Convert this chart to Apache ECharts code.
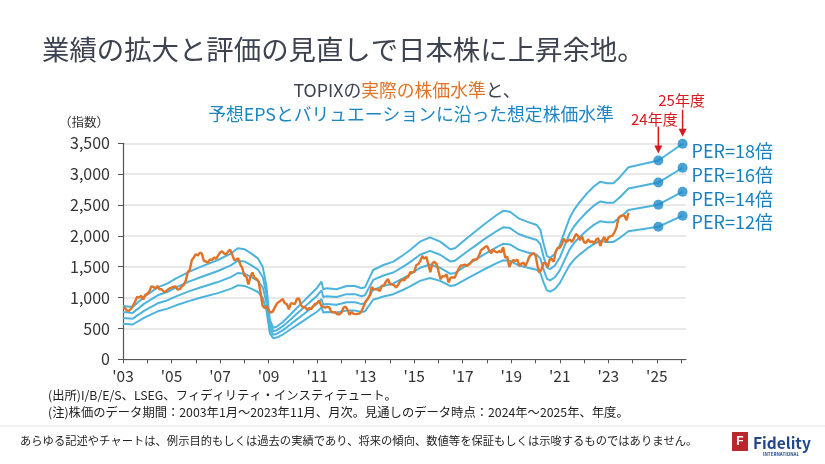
<!DOCTYPE html>
<html><head><meta charset="utf-8">
<script src="https://cdn.jsdelivr.net/npm/echarts@6/dist/echarts.min.js"></script>
<style>html,body{margin:0;padding:0;background:#fff}#c{width:825px;height:464px}</style>
</head><body><div id="c"></div>
<script>
// TOPIX monthly (2003-01 .. 2023-11)
const topixStart = 2003;
const topix = [
 834,831,788,787,819,880,936,1013,1000,1030,970,1043,
 1060,1100,1179,1174,1145,1189,1135,1136,1102,1093,1124,1150,
 1160,1177,1182,1129,1137,1177,1204,1271,1412,1444,1606,1650,
 1704,1681,1728,1712,1595,1585,1565,1620,1610,1651,1627,1681,
 1730,1752,1713,1701,1749,1774,1697,1609,1616,1637,1537,1475,
 1356,1341,1212,1336,1408,1320,1303,1264,1087,867,830,860,
 794,756,773,837,898,929,950,978,909,894,811,908,
 901,894,979,987,880,841,850,804,829,810,860,898,
 910,951,869,851,838,849,841,770,761,764,728,729,
 755,835,854,805,719,770,736,731,737,742,781,860,
 940,976,1035,1170,1135,1133,1131,1106,1194,1194,1258,1302,
 1220,1211,1203,1163,1202,1263,1289,1277,1326,1333,1410,1408,
 1416,1523,1543,1592,1673,1630,1659,1537,1411,1558,1580,1547,
 1432,1297,1347,1340,1379,1245,1322,1329,1322,1393,1469,1519,
 1521,1535,1512,1531,1568,1611,1618,1617,1675,1765,1792,1818,
 1836,1768,1716,1777,1747,1730,1753,1735,1817,1646,1667,1494,
 1567,1607,1591,1617,1512,1551,1565,1511,1587,1667,1699,1721,
 1684,1511,1403,1464,1563,1558,1496,1618,1625,1579,1754,1805,
 1808,1864,1954,1898,1922,1943,1901,1960,2030,2001,1928,1992,
 1895,1886,1946,1899,1912,1871,1940,1963,1835,1929,1985,1892,
 1975,1994,2003,2057,2131,2288,2322,2332,2324,2254,2374
];
// Forecast EPS (index points) at decimal-year dates; last two = FY2024, FY2025 outlook
const epsX = [2003.0,2003.4,2003.88,2004.43,2004.84,2005.19,2005.74,2006.22,2006.91,2007.46,2007.73,2008.0,2008.28,2008.56,2008.76,2008.91,2009.05,2009.19,2009.33,2009.6,2009.88,2010.15,2010.43,2010.7,2010.98,2011.18,2011.25,2011.39,2011.8,2012.22,2012.56,2012.83,2012.97,2013.31,2013.73,2014.14,2014.55,2014.83,2015.24,2015.65,2016.07,2016.48,2016.68,2017.17,2017.85,2018.4,2018.68,2018.95,2019.3,2019.64,2020.05,2020.2,2020.33,2020.47,2020.6,2020.8,2021.0,2021.2,2021.4,2021.6,2021.8,2022.12,2022.4,2022.67,2022.94,2023.21,2023.49,2023.83,2025.06,2026.06];
const eps = [47.9,47.0,56.4,64.8,68.4,72.9,78.9,83.4,89.4,95.4,99.9,99.1,95.4,90.9,83.0,66.0,35.4,28.4,29.3,33.8,39.9,45.9,51.9,57.9,63.9,69.9,63.1,63.9,63.1,66.0,66.0,63.9,64.8,80.4,84.9,87.9,93.9,98.4,105.9,109.8,105.9,99.1,99.9,108.9,120.9,129.9,133.8,132.9,126.9,123.9,120.9,116.5,104.0,93.0,91.3,95.0,103.0,115.0,127.0,135.0,141.0,149.4,155.6,159.9,158.5,158.5,164.4,172.9,179,194];
const perMultiples = [18,16,14,12];
const perLabels = ['PER=18倍','PER=16倍','PER=14倍','PER=12倍'];
const fyLabels = ['24年度','25年度'];
const yTicks = {min:0,max:3500,interval:500};

const FONT = '"Noto Sans CJK JP","Noto Sans",sans-serif';
const BLUE = '#4cb3dd', DOT = '#1b8bc8', ORANGE = '#e07327', RED = '#d7191f';

const chart = echarts.init(document.getElementById('c'), null, {renderer:'canvas'});
const series = [];
perMultiples.forEach(m => {
  series.push({type:'line', data: epsX.map((x,i)=>[x, eps[i]*m]), showSymbol:false, symbol:'none',
    lineStyle:{color:BLUE,width:2}, z:2, silent:true});
});
series.push({type:'scatter', symbolSize:10, itemStyle:{color:DOT},
  data: perMultiples.flatMap(m => [epsX.length-2, epsX.length-1].map(i=>[epsX[i], eps[i]*m])), z:4});
series.push({type:'line', data: topix.map((v,i)=>[topixStart + i/12, v]), showSymbol:false, symbol:'none',
  lineStyle:{color:ORANGE,width:2.4}, z:3});

chart.setOption({
  animation:false,
  grid:{left:123, right:139, top:143.3, bottom:104.7, containLabel:false},
  xAxis:{type:'value', min:2003, max:2026.2, interval:1,
    axisLine:{lineStyle:{color:'#555',width:1.2}},
    axisTick:{show:true,length:4,lineStyle:{color:'#555'}},
    splitLine:{show:false},
    axisLabel:{fontFamily:FONT,fontSize:15.5,color:'#333',margin:9,showMaxLabel:false,
      formatter:v=>{const r=Math.round(v); if(Math.abs(v-r)>1e-6) return ''; return (r-2003)%2===0 ? "'"+String(r).slice(2) : '';}}},
  yAxis:{type:'value', min:yTicks.min, max:yTicks.max, interval:yTicks.interval,
    axisLine:{show:true,lineStyle:{color:'#555',width:1.2}},
    axisTick:{show:true,length:5,lineStyle:{color:'#555'}},
    splitLine:{lineStyle:{color:'#e2e2e2',width:1.5}},
    axisLabel:{fontFamily:FONT,fontSize:16,color:'#333',margin:13}},
  series
});

const n = epsX.length;
const g = [];
const txt = (x,y,text,size,color,align,extra) => Object.assign({type:'text', x, y, silent:true,
  style:Object.assign({text, font:`${size}px ${FONT}`, fill:color, textAlign:align||'left', textVerticalAlign:'middle'}, extra||{})});
g.push(txt(42,50,'業績の拡大と評価の見直しで日本株に上昇余地。',27.4,'#3d4250','left'));
g.push({type:'text', x:407, y:90, silent:true, style:{
  text:'{g|TOPIXの}{o|実際の株価水準}{g|と、}', textAlign:'center', textVerticalAlign:'middle',
  rich:{g:{font:`17.8px ${FONT}`, fill:'#3d4250'}, o:{font:`17.8px ${FONT}`, fill:ORANGE}}}});
g.push(txt(411,114,'予想EPSとバリュエーションに沿った想定株価水準',17.8,'#1b86c2','center'));
g.push(txt(84,122,'（指数）',12.5,'#333','center'));
// PER labels and FY arrows tied to data points
perMultiples.forEach((m,k)=>{
  const p = chart.convertToPixel({xAxisIndex:0,yAxisIndex:0},[epsX[n-1], eps[n-1]*m]);
  g.push(txt(p[0]+9, p[1]+7, perLabels[k], 18, '#1a80bd', 'left'));
});
[n-2,n-1].forEach((i,k)=>{
  const p = chart.convertToPixel({xAxisIndex:0,yAxisIndex:0},[epsX[i], eps[i]*perMultiples[0]]);
  const x = p[0], tip = p[1]-7;
  g.push({type:'line', silent:true, shape:{x1:x,y1:tip-27,x2:x,y2:tip-6}, style:{stroke:RED,lineWidth:1.5}});
  g.push({type:'polygon', silent:true, shape:{points:[[x-4,tip-8],[x+4,tip-8],[x,tip]]}, style:{fill:RED}});
  g.push(txt(k===0 ? x-4 : x-1, k===0 ? tip-34 : tip-36, fyLabels[k], 15, RED, 'center'));
});
g.push(txt(48,395,'(出所)I/B/E/S、LSEG、フィディリティ・インスティテュート。',12.3,'#222','left'));
g.push(txt(48,412,'(注)株価のデータ期間：2003年1月～2023年11月、月次。見通しのデータ時点：2024年～2025年、年度。',12.3,'#222','left'));
g.push({type:'line', silent:true, shape:{x1:0,y1:426,x2:825,y2:426}, style:{stroke:'#e4e4e4',lineWidth:1}});
g.push(txt(20,441,'あらゆる記述やチャートは、例示目的もしくは過去の実績であり、将来の傾向、数値等を保証もしくは示唆するものではありません。',11.3,'#222','left'));
g.push({type:'rect', silent:true, shape:{x:732,y:432,width:16,height:19}, style:{fill:'#b8282d'}});
g.push(txt(740,442,'F',14,'#fff','center',{fontWeight:'bold'}));
g.push(txt(753,443,'Fidelity',15.5,'#22488a','left',{font:`bold 15.5px ${FONT}`}));
g.push(txt(781,454,'INTERNATIONAL',4.5,'#22488a','center',{font:`bold 4.5px ${FONT}`}));
chart.setOption({graphic:g});
</script></body></html>
